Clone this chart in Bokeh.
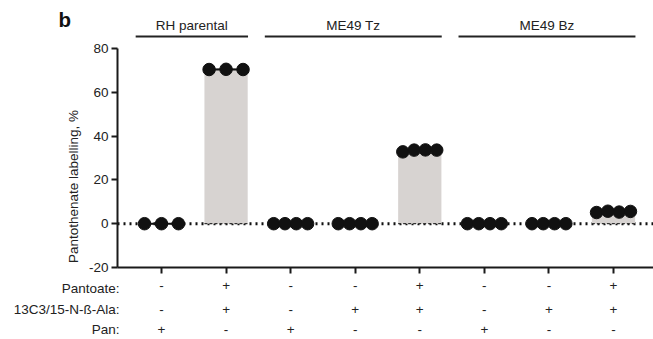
from bokeh.plotting import figure
from bokeh.models import ColumnDataSource, Range1d, FixedTicker
from bokeh.core.properties import value
from bokeh.embed import file_html
from bokeh.resources import INLINE
import math

# ---------------- data ----------------
categories = [1, 2, 3, 4, 5, 6, 7, 8]
group_names = ["RH parental", "ME49 Tz", "ME49 Bz"]
group_members = [[1, 2], [3, 4, 5], [6, 7, 8]]
values = [
    [0, 0, 0],
    [70.4, 70.5, 70.4],
    [0, 0, 0, 0],
    [0, 0, 0, 0],
    [32.8, 33.6, 33.7, 33.6],
    [0, 0, 0, 0],
    [0, 0, 0, 0],
    [5.1, 5.7, 5.3, 5.6],
]
row_names = ["Pantoate:", "13C3/15-N-\u00df-Ala:", "Pan:"]
pantoate = ["-", "+", "-", "-", "+", "-", "-", "+"]
ala = ["-", "+", "-", "+", "+", "-", "+", "+"]
pan = ["+", "-", "+", "-", "-", "+", "-", "-"]
y_ticks = [-20, 0, 20, 40, 60, 80]
y_label = "Pantothenate labelling, %"

FONT = "Liberation Sans"
TXT = "#222222"
INK = "#111111"

# plotting area spans the whole canvas; axes are placed at fixed locations
X0, X1 = -1.4934, 8.6196
Y0, Y1 = -52.88, 101.92
AX_X = 0.3186  # where the y axis sits
AX_Y = -20     # where the x axis sits

p = figure(width=653, height=339, output_backend="svg", toolbar_location=None,
           x_range=Range1d(X0, X1), y_range=Range1d(Y0, Y1),
           min_border=0, min_border_left=0, min_border_right=0, min_border_top=0,
           min_border_bottom=0, outline_line_color=None)
p.grid.visible = False
p.background_fill_color = "white"
p.border_fill_color = "white"

# zero dotted line (from axis to right end)
p.segment(x0=[AX_X], y0=[0], x1=[X1], y1=[0], line_color=INK, line_width=3,
          line_dash="2 4")

# bars
means = [sum(v) / len(v) for v in values]
p.vbar(x=categories, top=means, bottom=0, width=0.67,
       fill_color="#d7d3d1", line_color=None)
half = 0.335
p.segment(x0=[c - half for c in categories], y0=[0] * 8,
          x1=[c + half for c in categories], y1=[0] * 8,
          line_color="#333333", line_width=1.2, line_dash="3 2")

# points
for c, v in zip(categories, values):
    n = len(v)
    step = 0.263 if n == 3 else 0.175
    xs = [c + (i - (n - 1) / 2) * step for i in range(n)]
    p.line(xs, v, line_color=INK, line_width=2)
    p.scatter(xs, v, size=12.5, fill_color=INK, line_color=INK)

# axes
ya = p.yaxis[0]
ya.fixed_location = AX_X
ya.bounds = (-20, 80)
ya.ticker = FixedTicker(ticks=y_ticks)
ya.major_label_overrides = {t: str(t) for t in y_ticks}
ya.minor_tick_line_color = None
ya.major_tick_out = 6
ya.major_tick_in = 0
ya.axis_line_width = 2
ya.major_tick_line_width = 2
ya.axis_line_color = "#1a1a1a"
ya.major_tick_line_color = "#1a1a1a"
ya.major_label_text_font = FONT
ya.major_label_text_font_size = "13.5px"
ya.major_label_text_color = TXT
ya.major_label_standoff = 3

xa = p.xaxis[0]
xa.fixed_location = AX_Y
xa.bounds = (AX_X, X1)
xa.ticker = FixedTicker(ticks=categories)
xa.major_label_overrides = {c: s for c, s in zip(categories, pantoate)}
xa.minor_tick_line_color = None
xa.major_tick_out = 6
xa.major_tick_in = 0
xa.axis_line_width = 2
xa.major_tick_line_width = 2
xa.axis_line_color = "#1a1a1a"
xa.major_tick_line_color = "#1a1a1a"
xa.major_label_text_font = FONT
xa.major_label_text_font_size = "13.5px"
xa.major_label_text_color = TXT
xa.major_label_standoff = 8

# axis title
p.text(x=[-0.363], y=[17.0], text=[y_label], angle=math.pi / 2,
       text_align="center", text_baseline="middle", text_font=value(FONT),
       text_font_size="13.5px", text_color=TXT)

# panel letter
p.text(x=[-0.5], y=[93.4], text=["b"], text_align="center", text_baseline="middle",
       text_font=value(FONT), text_font_style="bold", text_font_size="20.5px",
       text_color=INK)

# group headers
for name, mem in zip(group_names, group_members):
    g0 = mem[0] - 0.4
    g1 = mem[-1] + 0.34
    p.segment(x0=[g0], y0=[85.5], x1=[g1], y1=[85.5], line_color="#222222", line_width=2)
    p.text(x=[(g0 + g1) / 2], y=[90.6], text=[name], text_align="center",
           text_baseline="middle", text_font=value(FONT), text_font_size="13.5px",
           text_color=TXT)

# treatment table (first row is the x axis tick labels)
row_y = [-29.6, -39.2, -48.4]
xs, ys, ts = [], [], []
for ry, row in zip(row_y[1:], [ala, pan]):
    for c, s in zip(categories, row):
        xs.append(c)
        ys.append(ry)
        ts.append(s)
src = ColumnDataSource(dict(x=xs, y=ys, t=ts))
p.text(x="x", y="y", text="t", source=src, text_align="center",
       text_baseline="middle", text_font=value(FONT), text_font_size="13.5px",
       text_color=TXT)
p.text(x=[0.35] * 3, y=row_y, text=row_names, text_align="right", text_baseline="middle",
       text_font=value(FONT), text_font_size="13.5px", text_color=TXT)

open("out.html", "w").write(file_html(p, INLINE))
